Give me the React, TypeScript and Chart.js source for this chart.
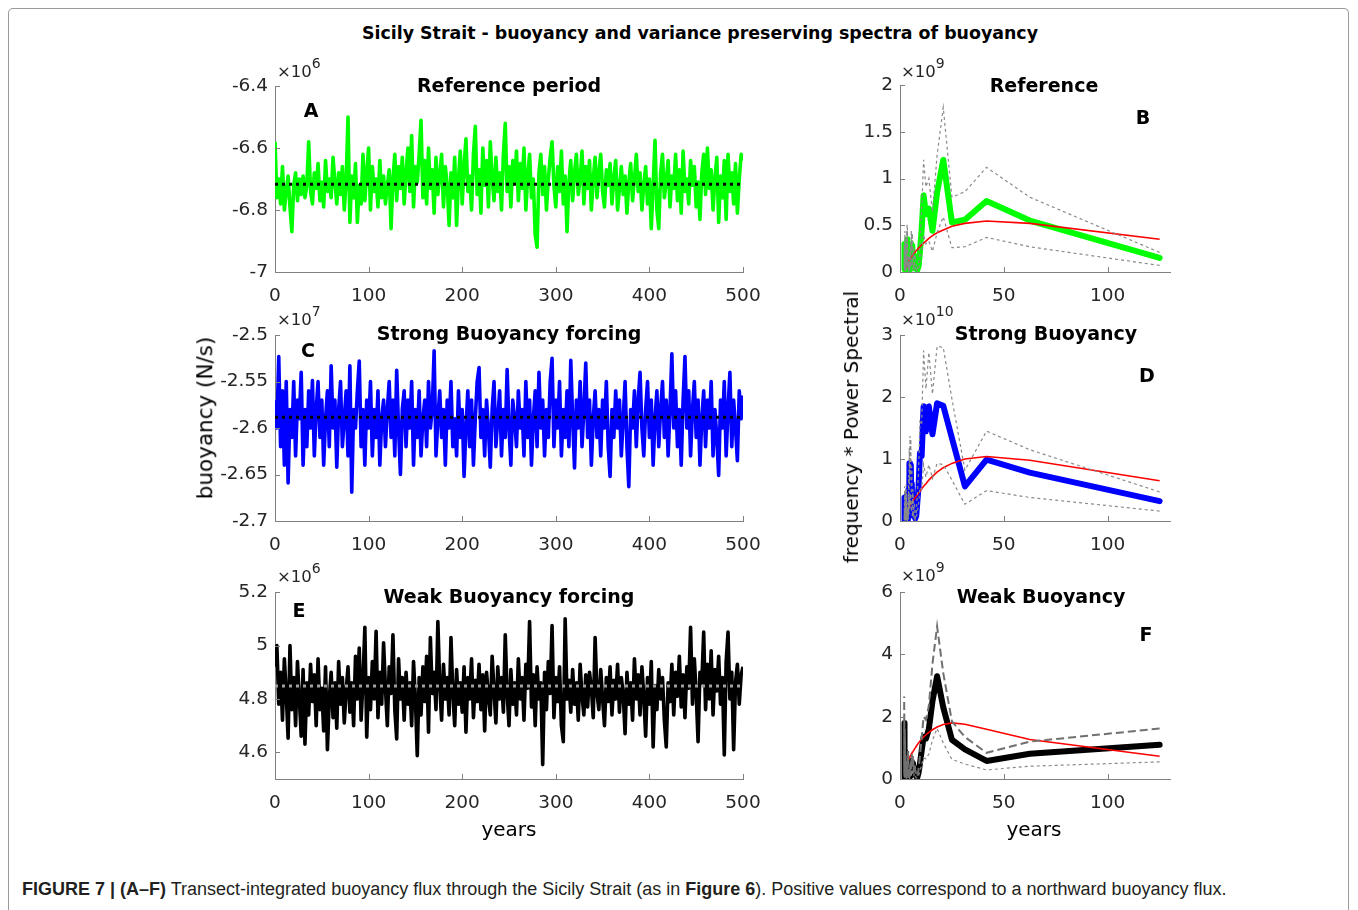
import React, { useEffect, useRef } from "react";
import { Chart, registerables } from "chart.js";
Chart.register(...registerables);

const FONT = "'DejaVu Sans', 'Liberation Sans', sans-serif";
const TICK_COLOR = "#262626";
const AXIS_COLOR = "#808080";

// ---------------- data ----------------
const YEARS = Array.from({ length: 251 }, (_, i) => i * 2);
const TIME_X_TICKS = [0, 100, 200, 300, 400, 500];

// Reference period (x10^6 N/s)
const refSeries = [
  -6.58, -6.76, -6.70, -6.78, -6.66, -6.80, -6.74, -6.69, -6.79, -6.87,
  -6.72, -6.68, -6.77, -6.70, -6.75, -6.69, -6.76, -6.72, -6.58, -6.74,
  -6.78, -6.68, -6.73, -6.65, -6.77, -6.71, -6.79, -6.64, -6.74, -6.70,
  -6.76, -6.63, -6.71, -6.78, -6.68, -6.75, -6.66, -6.80, -6.71, -6.50,
  -6.84, -6.69, -6.76, -6.65, -6.84, -6.72, -6.78, -6.62, -6.77, -6.68,
  -6.60, -6.80, -6.66, -6.74, -6.70, -6.79, -6.64, -6.76, -6.69, -6.78,
  -6.72, -6.67, -6.86, -6.70, -6.62, -6.77, -6.66, -6.73, -6.63, -6.78,
  -6.68, -6.60, -6.74, -6.56, -6.79, -6.66, -6.71, -6.62, -6.51, -6.76,
  -6.64, -6.78, -6.60, -6.73, -6.67, -6.81, -6.63, -6.75, -6.69, -6.62,
  -6.79, -6.66, -6.72, -6.85, -6.68, -6.76, -6.63, -6.85, -6.70, -6.61,
  -6.78, -6.66, -6.57, -6.74, -6.69, -6.80, -6.62, -6.53, -6.75, -6.67,
  -6.81, -6.60, -6.72, -6.64, -6.79, -6.58, -6.70, -6.77, -6.63, -6.74,
  -6.68, -6.80, -6.62, -6.52, -6.74, -6.66, -6.79, -6.64, -6.71, -6.61,
  -6.77, -6.65, -6.73, -6.60, -6.80, -6.69, -6.62, -6.76, -6.70, -6.88,
  -6.92, -6.68, -6.62, -6.75, -6.66, -6.80, -6.70, -6.63, -6.58, -6.72,
  -6.79, -6.66, -6.74, -6.61, -6.78, -6.69, -6.87, -6.71, -6.64, -6.77,
  -6.68, -6.62, -6.75, -6.70, -6.61, -6.78, -6.66, -6.73, -6.64, -6.80,
  -6.70, -6.63, -6.76, -6.68, -6.62, -6.74, -6.79, -6.67, -6.72, -6.65,
  -6.78, -6.70, -6.64, -6.80, -6.73, -6.66, -6.75, -6.69, -6.81, -6.71,
  -6.65, -6.77, -6.70, -6.62, -6.74, -6.68, -6.80, -6.72, -6.66, -6.78,
  -6.70, -6.86, -6.72, -6.575, -6.80, -6.86, -6.68, -6.62, -6.76, -6.71,
  -6.64, -6.79, -6.69, -6.73, -6.62, -6.77, -6.67, -6.81, -6.61, -6.74,
  -6.70, -6.78, -6.64, -6.72, -6.66, -6.79, -6.71, -6.83, -6.68, -6.62,
  -6.75, -6.60, -6.73, -6.67, -6.80, -6.70, -6.63, -6.84, -6.69, -6.76,
  -6.64, -6.83, -6.62, -6.74, -6.68, -6.78, -6.65, -6.81, -6.70, -6.62,
  -6.64,
];
const refMean = -6.717;
const refYTicks = [-7, -6.8, -6.6, -6.4];

// Strong buoyancy forcing (x10^7 N/s)
const strongSeries = [
  -2.57, -2.60, -2.523, -2.62, -2.56, -2.64, -2.55, -2.659, -2.58, -2.61,
  -2.55, -2.63, -2.57, -2.59, -2.54, -2.64, -2.58, -2.62, -2.56, -2.60,
  -2.549, -2.63, -2.58, -2.55, -2.61, -2.57, -2.64, -2.59, -2.56, -2.62,
  -2.533, -2.60, -2.57, -2.642, -2.58, -2.55, -2.62, -2.59, -2.56, -2.63,
  -2.533, -2.669, -2.58, -2.60, -2.56, -2.528, -2.62, -2.58, -2.64, -2.57,
  -2.60, -2.55, -2.63, -2.58, -2.61, -2.56, -2.64, -2.59, -2.57, -2.62,
  -2.58, -2.55, -2.61, -2.57, -2.63, -2.538, -2.60, -2.65, -2.58, -2.56,
  -2.62, -2.57, -2.60, -2.55, -2.64, -2.58, -2.61, -2.56, -2.63, -2.59,
  -2.57, -2.62, -2.55, -2.60, -2.58, -2.517, -2.63, -2.59, -2.56, -2.61,
  -2.58, -2.64, -2.57, -2.60, -2.55, -2.62, -2.59, -2.63, -2.56, -2.61,
  -2.58, -2.652, -2.60, -2.56, -2.62, -2.57, -2.64, -2.59, -2.55, -2.535,
  -2.61, -2.58, -2.63, -2.57, -2.60, -2.642, -2.58, -2.55, -2.62, -2.59,
  -2.56, -2.63, -2.58, -2.61, -2.537, -2.60, -2.64, -2.57, -2.59, -2.62,
  -2.56, -2.60, -2.58, -2.63, -2.55, -2.61, -2.57, -2.64, -2.59, -2.56,
  -2.62, -2.54, -2.60, -2.57, -2.63, -2.58, -2.61, -2.55, -2.525, -2.62,
  -2.57, -2.60, -2.55, -2.63, -2.58, -2.61, -2.56, -2.62, -2.527, -2.59,
  -2.643, -2.57, -2.60, -2.55, -2.62, -2.58, -2.53, -2.61, -2.57, -2.64,
  -2.59, -2.56, -2.61, -2.58, -2.63, -2.57, -2.60, -2.55, -2.62, -2.652,
  -2.58, -2.61, -2.56, -2.60, -2.57, -2.63, -2.59, -2.55, -2.62, -2.663,
  -2.58, -2.60, -2.56, -2.62, -2.57, -2.54, -2.60, -2.63, -2.58, -2.55,
  -2.61, -2.57, -2.64, -2.59, -2.56, -2.62, -2.58, -2.55, -2.61, -2.57,
  -2.63, -2.58, -2.52, -2.60, -2.56, -2.62, -2.58, -2.64, -2.57, -2.523,
  -2.60, -2.56, -2.63, -2.58, -2.55, -2.61, -2.57, -2.64, -2.59, -2.56,
  -2.62, -2.57, -2.60, -2.55, -2.63, -2.58, -2.61, -2.651, -2.57, -2.60,
  -2.55, -2.63, -2.58, -2.54, -2.62, -2.57, -2.60, -2.635, -2.56, -2.59,
  -2.565,
];
const strongMean = -2.5885;
const strongYTicks = [-2.7, -2.65, -2.6, -2.55, -2.5];

// Weak buoyancy forcing (x10^6 N/s)
const weakSeries = [
  4.92, 5.00, 4.78, 4.90, 4.72, 4.95, 4.82, 4.653, 5.00, 4.76,
  4.88, 4.70, 4.94, 4.80, 4.66, 4.91, 4.63, 4.86, 4.74, 4.93,
  4.79, 4.89, 4.70, 4.95, 4.76, 4.84, 4.68, 4.92, 4.61, 4.80,
  4.90, 4.73, 4.86, 4.69, 4.94, 4.78, 4.88, 4.71, 4.83, 4.92,
  4.75, 4.86, 4.70, 4.96, 4.80, 4.99, 4.72, 4.87, 5.068, 4.657,
  4.88, 4.76, 4.94, 4.80, 5.053, 4.73, 4.90, 4.78, 5.01, 4.84,
  4.70, 4.92, 4.82, 5.04, 4.76, 4.65, 4.95, 4.80, 4.88, 4.72,
  4.90, 4.78, 4.86, 4.70, 4.94, 4.80, 4.587, 4.88, 4.74, 4.92,
  4.79, 4.96, 4.675, 5.03, 4.82, 4.90, 4.76, 5.09, 4.85, 4.72,
  4.93, 4.80, 4.88, 4.74, 5.03, 4.82, 4.70, 4.91, 4.78, 4.86,
  4.75, 4.92, 4.675, 4.88, 4.80, 4.95, 4.73, 4.87, 4.79, 4.93,
  4.76, 4.89, 4.68, 4.90, 4.81, 4.74, 4.96, 4.83, 4.71, 4.92,
  4.80, 4.88, 4.75, 5.04, 4.82, 4.70, 4.91, 4.78, 4.86, 4.74,
  4.95, 4.80, 4.88, 4.72, 4.93, 4.84, 5.09, 4.77, 4.89, 4.70,
  4.92, 4.80, 4.86, 4.554, 4.90, 4.76, 4.94, 4.82, 5.075, 4.73,
  4.88, 4.79, 4.92, 4.70, 4.64, 5.10, 4.80, 4.87, 4.75, 4.91,
  4.78, 4.86, 4.72, 4.93, 4.81, 4.74, 4.89, 4.77, 4.90, 4.84,
  4.73, 5.03, 4.82, 4.76, 4.91, 4.80, 4.70, 4.88, 4.79, 4.92,
  4.74, 4.87, 4.80, 4.93, 4.75, 4.88, 4.82, 4.67, 4.90, 4.78,
  4.86, 4.72, 4.95, 4.80, 4.89, 4.74, 4.92, 4.81, 4.66, 4.88,
  4.78, 4.94, 4.62, 4.85, 4.76, 4.91, 4.80, 4.88, 4.72, 4.62,
  4.86, 4.79, 4.93, 4.74, 4.90, 4.81, 4.96, 4.77, 4.89, 4.73,
  4.92, 4.84, 5.068, 4.78, 4.95, 4.82, 4.64, 4.90, 4.86, 5.05,
  4.76, 4.93, 4.80, 4.98, 4.74, 4.91, 4.83, 4.96, 4.78, 4.88,
  4.59, 4.94, 5.05, 4.80, 4.90, 4.61, 4.86, 4.93, 4.78, 4.89,
  4.92,
];
const weakMean = 4.848;
const weakYTicks = [4.6, 4.8, 5, 5.2];

// Spectra: periods (years)
const PERIODS = [
  125, 62.5, 41.67, 31.25, 25, 20.83, 17.86, 15.63, 13.89, 12.5,
  11.36, 10.42, 9.62, 8.93, 8.33, 7.81, 7.35, 6.94, 6.58, 6.25,
  5.95, 5.68, 5.43, 5.21, 5.0, 4.81, 4.63, 4.46, 4.31, 4.17,
  4.03, 3.91, 3.79, 3.68, 3.57, 3.47, 3.38, 3.29, 3.21, 3.13,
  3.05, 2.98, 2.91, 2.84, 2.78, 2.72, 2.66, 2.6, 2.55, 2.5,
  2.45, 2.4, 2.36, 2.31, 2.27, 2.23, 2.19, 2.16, 2.12, 2.08,
  2.05, 2.02,
];
const SPEC_X_TICKS = [0, 50, 100];

// B: Reference (x10^9)
const refSpec = [
  0.15, 0.55, 0.76, 0.56, 0.53, 1.2, 0.85, 0.44, 0.68, 0.62,
  0.82, 0.45, 0.22, 0.06, 0.02, 0.05, 0.12, 0.04, 0.18, 0.08,
  0.28, 0.15, 0.30, 0.10, 0.22, 0.05, 0.14, 0.02, 0.08, 0.01,
  0.12, 0.04, 0.20, 0.10, 0.32, 0.18, 0.35, 0.22, 0.30, 0.12,
  0.26, 0.08, 0.20, 0.05, 0.15, 0.02, 0.10, 0.04, 0.18, 0.08,
  0.24, 0.12, 0.30, 0.15, 0.22, 0.06, 0.16, 0.03, 0.12, 0.05,
  0.20, 0.08,
];
const refSpecUpper = [
  0.21, 0.80, 1.12, 0.86, 0.80, 1.76, 1.25, 0.64, 1.00, 0.91,
  1.20, 0.66, 0.32, 0.09, 0.03, 0.07, 0.18, 0.06, 0.26, 0.12,
  0.41, 0.22, 0.44, 0.15, 0.32, 0.07, 0.21, 0.03, 0.12, 0.01,
  0.18, 0.06, 0.29, 0.15, 0.47, 0.26, 0.52, 0.32, 0.44, 0.18,
  0.38, 0.12, 0.29, 0.07, 0.22, 0.03, 0.15, 0.06, 0.26, 0.12,
  0.35, 0.18, 0.44, 0.22, 0.32, 0.09, 0.24, 0.04, 0.18, 0.07,
  0.29, 0.12,
];
const refSpecLower = [
  0.07, 0.27, 0.37, 0.27, 0.26, 0.59, 0.42, 0.22, 0.33, 0.30,
  0.40, 0.22, 0.11, 0.03, 0.01, 0.02, 0.06, 0.02, 0.09, 0.04,
  0.14, 0.07, 0.15, 0.05, 0.11, 0.02, 0.07, 0.01, 0.04, 0.0,
  0.06, 0.02, 0.10, 0.05, 0.16, 0.09, 0.17, 0.11, 0.15, 0.06,
  0.13, 0.04, 0.10, 0.02, 0.07, 0.01, 0.05, 0.02, 0.09, 0.04,
  0.12, 0.06, 0.15, 0.07, 0.11, 0.03, 0.08, 0.01, 0.06, 0.02,
  0.10, 0.04,
];
const refRed = [
  0.35, 0.52, 0.545, 0.52, 0.49, 0.45, 0.42, 0.39, 0.36, 0.33,
  0.31, 0.29, 0.27, 0.255, 0.24, 0.23, 0.215, 0.205, 0.195, 0.185,
  0.175, 0.165, 0.158, 0.15, 0.143, 0.137, 0.131, 0.125, 0.12, 0.115,
  0.11, 0.106, 0.102, 0.098, 0.094, 0.09, 0.087, 0.084, 0.081, 0.078,
  0.075, 0.072, 0.07, 0.068, 0.066, 0.064, 0.062, 0.06, 0.058, 0.056,
  0.054, 0.052,
];
const refSpecYTicks = [0, 0.5, 1, 1.5, 2];

// D: Strong buoyancy (x10^10)
const strongSpec = [
  0.32, 0.78, 0.99, 0.56, 1.34, 1.86, 1.9, 1.4, 1.85, 1.45,
  1.85, 1.05, 1.1, 0.55, 0.3, 0.08, 0.04, 0.2, 0.08, 0.35,
  0.15, 0.6, 0.3, 0.9, 0.5, 0.93, 0.4, 0.8, 0.2, 0.5,
  0.06, 0.3, 0.02, 0.15, 0.01, 0.1, 0.03, 0.2, 0.05, 0.3,
  0.12, 0.4, 0.2, 0.35, 0.1, 0.25, 0.03, 0.15, 0.01, 0.1,
  0.05, 0.2, 0.08, 0.3, 0.12, 0.38, 0.15, 0.25, 0.05, 0.15,
  0.02, 0.1,
];
const strongSpecUpper = [
  0.47, 1.15, 1.45, 0.82, 1.97, 2.8, 2.82, 2.05, 2.72, 2.13,
  2.75, 1.55, 1.6, 0.8, 0.44, 0.12, 0.06, 0.29, 0.12, 0.51,
  0.22, 0.88, 0.44, 1.32, 0.74, 1.37, 0.59, 1.18, 0.29, 0.74,
  0.09, 0.44, 0.03, 0.22, 0.01, 0.15, 0.04, 0.29, 0.07, 0.44,
  0.18, 0.59, 0.29, 0.51, 0.15, 0.37, 0.04, 0.22, 0.01, 0.15,
  0.07, 0.29, 0.12, 0.44, 0.18, 0.56, 0.22, 0.37, 0.07, 0.22,
  0.03, 0.15,
];
const strongSpecLower = [
  0.16, 0.38, 0.49, 0.27, 0.66, 0.91, 0.93, 0.69, 0.91, 0.71,
  0.91, 0.51, 0.54, 0.27, 0.15, 0.04, 0.02, 0.1, 0.04, 0.17,
  0.07, 0.29, 0.15, 0.44, 0.25, 0.46, 0.2, 0.39, 0.1, 0.25,
  0.03, 0.15, 0.01, 0.07, 0.0, 0.05, 0.01, 0.1, 0.02, 0.15,
  0.06, 0.2, 0.1, 0.17, 0.05, 0.12, 0.01, 0.07, 0.0, 0.05,
  0.02, 0.1, 0.04, 0.15, 0.06, 0.19, 0.07, 0.12, 0.02, 0.07,
  0.01, 0.05,
];
const strongRed = [
  0.65, 0.98, 1.04, 1.0, 0.93, 0.86, 0.79, 0.72, 0.66, 0.6,
  0.56, 0.52, 0.48, 0.45, 0.42, 0.4, 0.38, 0.36, 0.34, 0.32,
  0.31, 0.295, 0.285, 0.275, 0.265, 0.255, 0.245, 0.235, 0.228, 0.22,
  0.213, 0.206, 0.2, 0.194, 0.188, 0.183, 0.178, 0.173, 0.168, 0.164,
  0.16, 0.156, 0.152, 0.148, 0.145, 0.142, 0.139, 0.136, 0.133, 0.13,
];
const strongSpecYTicks = [0, 1, 2, 3];

// F: Weak buoyancy (x10^9)
const weakSpec = [
  1.1, 0.81, 0.58, 0.95, 1.26, 2.3, 3.3, 2.5, 1.6, 1.3,
  1.35, 0.9, 0.5, 0.2, 0.05, 0.08, 0.2, 0.35, 0.15, 0.5,
  0.3, 0.55, 0.2, 0.4, 0.1, 0.3, 0.05, 0.2, 0.02, 0.1,
  0.3, 0.6, 0.25, 0.5, 0.15, 0.4, 0.05, 0.25, 0.02, 0.15,
  0.01, 0.1, 0.02, 0.2, 0.05, 0.3, 0.1, 0.5, 0.2, 0.7,
  0.3, 0.9, 0.4, 1.1, 0.1, 0.4, 0.05, 0.8, 0.1, 1.4,
  0.3, 1.8,
];
const weakSpecUpper = [
  1.62, 1.2, 0.84, 1.35, 1.85, 3.4, 4.9, 3.7, 2.35, 1.9,
  2.0, 1.3, 0.75, 0.3, 0.08, 0.12, 0.3, 0.5, 0.22, 0.75,
  0.45, 0.8, 0.3, 0.6, 0.15, 0.45, 0.08, 0.3, 0.03, 0.15,
  0.45, 0.9, 0.37, 0.75, 0.22, 0.6, 0.08, 0.37, 0.03, 0.22,
  0.02, 0.15, 0.03, 0.3, 0.08, 0.45, 0.15, 0.75, 0.3, 1.0,
  0.45, 1.3, 0.6, 1.6, 0.15, 0.6, 0.08, 1.2, 0.15, 2.1,
  0.45, 2.65,
];
const weakSpecLower = [
  0.55, 0.41, 0.29, 0.48, 0.63, 1.15, 1.62, 1.25, 0.8, 0.65,
  0.68, 0.45, 0.25, 0.1, 0.03, 0.04, 0.1, 0.18, 0.08, 0.25,
  0.15, 0.28, 0.1, 0.2, 0.05, 0.15, 0.03, 0.1, 0.01, 0.05,
  0.15, 0.3, 0.13, 0.25, 0.08, 0.2, 0.03, 0.13, 0.01, 0.08,
  0.01, 0.05, 0.01, 0.1, 0.03, 0.15, 0.05, 0.25, 0.1, 0.35,
  0.15, 0.45, 0.2, 0.55, 0.05, 0.2, 0.03, 0.4, 0.05, 0.7,
  0.15, 0.9,
];
const weakRed = [
  0.73, 1.27, 1.6, 1.76, 1.8, 1.75, 1.67, 1.58, 1.5, 1.42,
  1.35, 1.28, 1.22, 1.16, 1.1, 1.05, 1.0, 0.96, 0.92, 0.88,
  0.85, 0.82, 0.79, 0.76, 0.74, 0.72, 0.7, 0.68, 0.66, 0.64,
  0.62, 0.6, 0.59, 0.57, 0.56, 0.55,
];
const weakSpecYTicks = [0, 2, 4, 6];

// ---------------- helpers ----------------
const fmt = (v: number) => String(+Number(v).toFixed(3));
const pts = (xs: number[], ys: number[]) => ys.map((y, i) => ({ x: xs[i], y }));

const inwardTicks = {
  id: "inwardTicks",
  afterDraw(chart: any) {
    const { ctx, chartArea: a, scales } = chart;
    ctx.save();
    ctx.strokeStyle = AXIS_COLOR;
    ctx.lineWidth = 1;
    const xs = scales.x;
    for (const t of xs.ticks) {
      const px = Math.round(xs.getPixelForValue(t.value)) + 0.5;
      ctx.beginPath();
      ctx.moveTo(px, a.bottom);
      ctx.lineTo(px, a.bottom - 5);
      ctx.stroke();
    }
    const ys = scales.y;
    for (const t of ys.ticks) {
      const py = Math.round(ys.getPixelForValue(t.value)) + 0.5;
      ctx.beginPath();
      ctx.moveTo(a.left, py);
      ctx.lineTo(a.left + 5, py);
      ctx.stroke();
    }
    ctx.restore();
  },
};

type Box = { L: number; R: number; T: number; B: number };
type PanelProps = {
  box: Box;
  xMin: number; xMax: number; xTicks: number[];
  yMin: number; yMax: number; yTicks: number[];
  datasets: any[];
};

const PAD_L = 84, PAD_R = 36, PAD_T = 14, PAD_B = 46;

function Panel({ box, xMin, xMax, xTicks, yMin, yMax, yTicks, datasets }: PanelProps) {
  const ref = useRef<HTMLCanvasElement>(null);
  const w = box.R - box.L + PAD_L + PAD_R;
  const h = box.B - box.T + PAD_T + PAD_B;
  useEffect(() => {
    if (!ref.current) return;
    const tickFont = { family: FONT, size: 18.5 };
    const chart = new Chart(ref.current, {
      type: "line",
      data: { datasets },
      options: {
        responsive: false,
        animation: false,
        events: [],
        layout: { padding: { top: PAD_T, right: PAD_R, left: 0, bottom: 0 } },
        plugins: { legend: { display: false }, tooltip: { enabled: false }, title: { display: false } },
        elements: { point: { radius: 0 }, line: { tension: 0 } },
        scales: {
          x: {
            type: "linear",
            min: xMin,
            max: xMax,
            grid: { display: false, drawTicks: false },
            border: { display: true, color: AXIS_COLOR, width: 1 },
            ticks: { font: tickFont, color: TICK_COLOR, padding: 13, maxRotation: 0, autoSkip: false, callback: (v: any) => fmt(v) },
            afterBuildTicks: (s: any) => { s.ticks = xTicks.map((v) => ({ value: v })); },
            afterFit: (s: any) => { s.height = PAD_B; },
          },
          y: {
            type: "linear",
            min: yMin,
            max: yMax,
            grid: { display: false, drawTicks: false },
            border: { display: true, color: AXIS_COLOR, width: 1 },
            ticks: { font: tickFont, color: TICK_COLOR, padding: 7, autoSkip: false, callback: (v: any) => fmt(v) },
            afterBuildTicks: (s: any) => { s.ticks = yTicks.map((v) => ({ value: v })); },
            afterFit: (s: any) => { s.width = PAD_L; },
          },
        },
      } as any,
      plugins: [inwardTicks],
    });
    return () => chart.destroy();
  }, []);
  return (
    <canvas
      ref={ref}
      width={w}
      height={h}
      style={{ position: "absolute", left: box.L - PAD_L, top: box.T - PAD_T, width: w, height: h }}
    />
  );
}

function seriesSets(values: number[], mean: number, color: string, meanColor: string) {
  return [
    {
      data: [{ x: 0, y: mean }, { x: 500, y: mean }],
      borderColor: meanColor, borderWidth: 3, borderDash: [3, 4], order: 0, pointRadius: 0,
    },
    {
      data: pts(YEARS, values),
      borderColor: color, borderWidth: 3.6, borderJoinStyle: "round", order: 1, pointRadius: 0,
    },
  ];
}

function specSets(main: number[], upper: number[], lower: number[], red: number[], color: string, weak = false) {
  return [
    {
      data: pts(PERIODS, upper),
      borderColor: weak ? "#707070" : "#8a8a8a", borderWidth: weak ? 2 : 1.2,
      borderDash: weak ? [8, 4] : [3, 3], order: 0, pointRadius: 0,
    },
    {
      data: pts(PERIODS, lower),
      borderColor: "#8a8a8a", borderWidth: 1.2, borderDash: [3, 3], order: 0, pointRadius: 0,
    },
    {
      data: pts(PERIODS, red),
      borderColor: "#ff0000", borderWidth: 1.6, order: 1, pointRadius: 0,
    },
    {
      data: pts(PERIODS, main),
      borderColor: color, borderWidth: 6, borderJoinStyle: "round", borderCapStyle: "round", order: 2, pointRadius: 0,
    },
  ];
}

function Txt({ x, y, size = 17, bold = false, rotate = 0, children, align = "center" }: any) {
  const tx = align === "left" ? "0" : "-50%";
  return (
    <div
      style={{
        position: "absolute", left: x, top: y, fontFamily: FONT, fontSize: size,
        fontWeight: bold ? "bold" : "normal", lineHeight: 1, whiteSpace: "nowrap", color: "#000",
        transform: `translate(${tx}, -50%) rotate(${rotate}deg)`,
      }}
    >
      {children}
    </div>
  );
}

function Exp({ x, y, p }: { x: number; y: number; p: string }) {
  return (
    <div style={{ position: "absolute", left: x, top: y - 9, fontFamily: FONT, fontSize: 16.5, lineHeight: "18px", color: TICK_COLOR, whiteSpace: "nowrap" }}>
      ×10<span style={{ fontSize: 14, position: "relative", top: -9 }}>{p}</span>
    </div>
  );
}

const boxA = { L: 275, R: 743, T: 82, B: 272 };
const boxC = { L: 275, R: 743, T: 331, B: 521 };
const boxE = { L: 275, R: 743, T: 588, B: 779 };
const boxB = { L: 900, R: 1170, T: 81, B: 272 };
const boxD = { L: 900, R: 1170, T: 331, B: 521 };
const boxF = { L: 900, R: 1170, T: 588, B: 779 };

export default function App() {
  useEffect(() => {
    document.body.style.overflow = "hidden";
  }, []);
  return (
    <div>
      <div
        style={{
          position: "absolute", left: 8, top: 8, width: 1341, height: 902, boxSizing: "border-box",
          borderTop: "1px solid #9a9a9a", borderLeft: "1px solid #9a9a9a", borderRight: "1px solid #9a9a9a",
          borderTopLeftRadius: 5, borderTopRightRadius: 5, background: "#fff",
        }}
      />
      <Txt x={700} y={34} size={17.4} bold>Sicily Strait - buoyancy and variance preserving spectra of buoyancy</Txt>

      <Panel box={boxA} xMin={0} xMax={500} xTicks={TIME_X_TICKS} yMin={-7} yMax={-6.4} yTicks={refYTicks}
        datasets={seriesSets(refSeries, refMean, "#00ff00", "#000000")} />
      <Panel box={boxC} xMin={0} xMax={500} xTicks={TIME_X_TICKS} yMin={-2.7} yMax={-2.5} yTicks={strongYTicks}
        datasets={seriesSets(strongSeries, strongMean, "#0000ff", "#000000")} />
      <Panel box={boxE} xMin={0} xMax={500} xTicks={TIME_X_TICKS} yMin={4.5} yMax={5.2} yTicks={weakYTicks}
        datasets={seriesSets(weakSeries, weakMean, "#000000", "#a0a0a0")} />
      <Panel box={boxB} xMin={0} xMax={130} xTicks={SPEC_X_TICKS} yMin={0} yMax={2} yTicks={refSpecYTicks}
        datasets={specSets(refSpec, refSpecUpper, refSpecLower, refRed, "#00ff00")} />
      <Panel box={boxD} xMin={0} xMax={130} xTicks={SPEC_X_TICKS} yMin={0} yMax={3} yTicks={strongSpecYTicks}
        datasets={specSets(strongSpec, strongSpecUpper, strongSpecLower, strongRed, "#0000ff")} />
      <Panel box={boxF} xMin={0} xMax={130} xTicks={SPEC_X_TICKS} yMin={0} yMax={6} yTicks={weakSpecYTicks}
        datasets={specSets(weakSpec, weakSpecUpper, weakSpecLower, weakRed, "#000000", true)} />

      <Exp x={277} y={72} p="6" />
      <Exp x={277} y={320} p="7" />
      <Exp x={277} y={577} p="6" />
      <Exp x={901} y={72} p="9" />
      <Exp x={901} y={320} p="10" />
      <Exp x={901} y={576} p="9" />

      <Txt x={509} y={85} size={19} bold>Reference period</Txt>
      <Txt x={509} y={333} size={19} bold>Strong Buoyancy forcing</Txt>
      <Txt x={509} y={596} size={19} bold>Weak Buoyancy forcing</Txt>
      <Txt x={1044} y={85} size={19} bold>Reference</Txt>
      <Txt x={1046} y={333} size={19} bold>Strong Buoyancy</Txt>
      <Txt x={1041} y={596} size={19} bold>Weak Buoyancy</Txt>

      <Txt x={311} y={110} size={19} bold>A</Txt>
      <Txt x={1143} y={117} size={19} bold>B</Txt>
      <Txt x={308} y={350} size={19} bold>C</Txt>
      <Txt x={1147} y={375} size={19} bold>D</Txt>
      <Txt x={299} y={610} size={19} bold>E</Txt>
      <Txt x={1146} y={634} size={19} bold>F</Txt>

      <Txt x={205} y={418} size={21.5} rotate={-90}>buoyancy (N/s)</Txt>
      <Txt x={851} y={427} size={20} rotate={-90}>frequency * Power Spectral</Txt>
      <Txt x={509} y={829} size={20}>years</Txt>
      <Txt x={1034} y={829} size={20}>years</Txt>

      <div
        style={{
          position: "absolute", left: 22, top: 879, fontFamily: "'Liberation Sans', Arial, sans-serif",
          fontSize: 18, lineHeight: "20px", color: "#231f20", whiteSpace: "nowrap",
        }}
      >
        <b>FIGURE 7 | (A–F)</b> Transect-integrated buoyancy flux through the Sicily Strait (as in <b>Figure 6</b>). Positive values correspond to a northward buoyancy flux.
      </div>
    </div>
  );
}
